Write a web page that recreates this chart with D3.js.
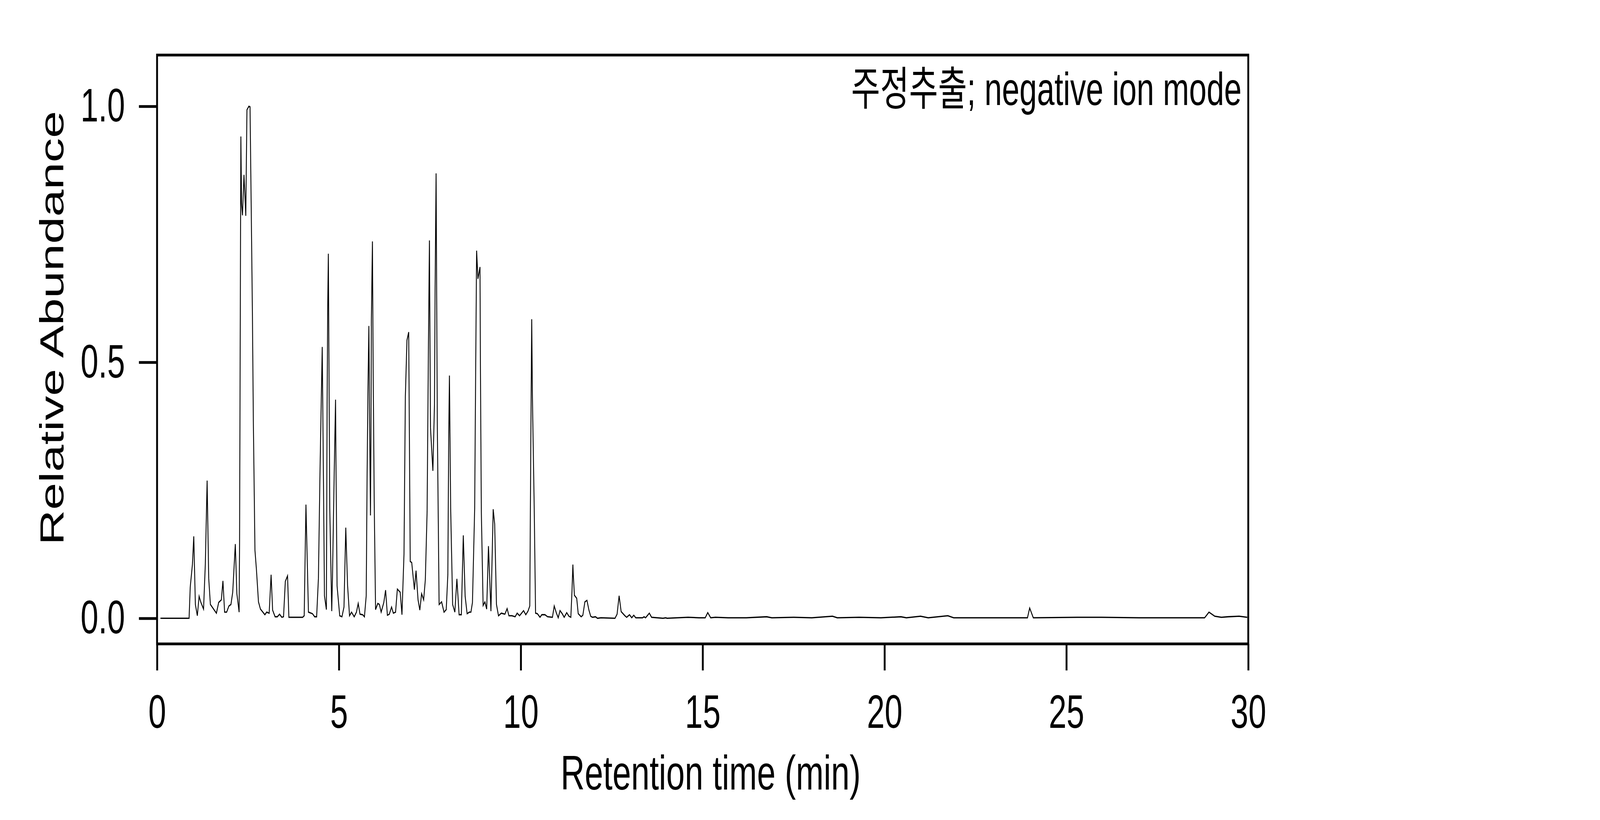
<!DOCTYPE html>
<html lang="ko">
<head>
	<meta charset="UTF-8">
	<title>Chromatogram</title>
	<script src="https://cdn.jsdelivr.net/npm/d3@7"></script>
	<style>
		html, body { margin: 0; padding: 0; background: #fff; overflow: hidden; }
		svg { display: block; width: 100vw; height: 100vh; font-family: "Liberation Sans", Arial, "Noto Sans CJK KR", sans-serif; }
	</style>
</head>
<body>
<div id="chart"></div>
<script>
// retention time (min) and relative abundance
var rtMin = [
	0.093, 0.880, 0.912, 0.973, 1.009, 1.053, 1.107, 1.156, 1.205, 1.278,
	1.327, 1.376, 1.420, 1.466, 1.632, 1.694, 1.767, 1.811, 1.857, 1.913,
	1.975, 2.031, 2.080, 2.151, 2.194, 2.256, 2.268, 2.280, 2.292, 2.304,
	2.323, 2.348, 2.390, 2.439, 2.471, 2.524, 2.556, 2.593, 2.622, 2.647,
	2.691, 2.732, 2.788, 2.842, 2.964, 3.013, 3.082, 3.135, 3.177, 3.245,
	3.306, 3.368, 3.429, 3.477, 3.526, 3.587, 3.624, 4.003, 4.045, 4.093,
	4.162, 4.272, 4.333, 4.387, 4.436, 4.479, 4.516, 4.541, 4.577, 4.602,
	4.655, 4.675, 4.692, 4.709, 4.748, 4.785, 4.802, 4.822, 4.870, 4.907,
	4.919, 4.949, 5.022, 5.083, 5.139, 5.188, 5.237, 5.291, 5.347, 5.420,
	5.481, 5.530, 5.579, 5.653, 5.701, 5.750, 5.775, 5.799, 5.823, 5.843,
	5.867, 5.880, 5.892, 5.921, 5.941, 5.970, 6.007, 6.068, 6.112, 6.161,
	6.234, 6.283, 6.332, 6.385, 6.447, 6.496, 6.557, 6.606, 6.684, 6.733,
	6.789, 6.826, 6.870, 6.918, 6.960, 7.001, 7.075, 7.120, 7.175, 7.224,
	7.273, 7.329, 7.375, 7.424, 7.444, 7.461, 7.488, 7.517, 7.583, 7.627,
	7.644, 7.671, 7.705, 7.754, 7.823, 7.889, 7.950, 7.994, 8.018, 8.038,
	8.072, 8.126, 8.187, 8.243, 8.304, 8.365, 8.419, 8.470, 8.524, 8.585,
	8.629, 8.671, 8.732, 8.756, 8.785, 8.822, 8.878, 8.891, 8.915, 8.964,
	9.013, 9.062, 9.111, 9.179, 9.241, 9.282, 9.331, 9.387, 9.465, 9.563,
	9.624, 9.673, 9.758, 9.844, 9.900, 9.966, 10.076, 10.137, 10.198, 10.247,
	10.276, 10.300, 10.320, 10.369, 10.406, 10.455, 10.528, 10.577, 10.663, 10.736,
	10.870, 10.919, 10.980, 11.029, 11.078, 11.139, 11.193, 11.262, 11.323, 11.376,
	11.407, 11.432, 11.444, 11.474, 11.537, 11.579, 11.660, 11.706, 11.762, 11.819,
	11.873, 11.922, 11.970, 12.055, 12.109, 12.202, 12.590, 12.647, 12.703, 12.759,
	12.862, 12.910, 12.989, 13.050, 13.106, 13.160, 13.350, 13.387, 13.431, 13.534,
	13.595, 13.910, 13.986, 14.020, 14.30, 14.60, 14.90, 15.07, 15.14, 15.22,
	15.35, 15.70, 16.20, 16.76, 16.90, 17.50, 18.00, 18.57, 18.70, 19.30,
	19.90, 20.45, 20.60, 20.99, 21.20, 21.74, 21.90, 22.50, 23.20, 23.93,
	23.99, 24.09, 25.30, 25.97, 27.00, 28.80, 28.92, 29.08, 29.26, 29.44,
	29.75, 29.97
];
var relAbundance = [
	0.000, 0.000, 0.061, 0.106, 0.160, 0.027, 0.005, 0.043, 0.031, 0.018,
	0.106, 0.269, 0.078, 0.027, 0.010, 0.031, 0.036, 0.073, 0.012, 0.012,
	0.024, 0.027, 0.051, 0.145, 0.048, 0.012, 0.147, 0.410, 0.680, 0.941,
	0.810, 0.787, 0.866, 0.786, 0.993, 1.000, 0.999, 0.774, 0.590, 0.385,
	0.133, 0.095, 0.032, 0.018, 0.007, 0.012, 0.010, 0.085, 0.016, 0.003,
	0.003, 0.008, 0.002, 0.003, 0.072, 0.083, 0.002, 0.002, 0.005, 0.222,
	0.012, 0.009, 0.003, 0.003, 0.078, 0.283, 0.433, 0.530, 0.249, 0.044,
	0.017, 0.419, 0.610, 0.712, 0.215, 0.078, 0.014, 0.078, 0.283, 0.427,
	0.300, 0.063, 0.005, 0.003, 0.022, 0.177, 0.065, 0.005, 0.012, 0.003,
	0.012, 0.029, 0.008, 0.007, 0.003, 0.044, 0.283, 0.453, 0.571, 0.385,
	0.201, 0.351, 0.583, 0.736, 0.487, 0.228, 0.017, 0.029, 0.027, 0.012,
	0.031, 0.055, 0.006, 0.008, 0.022, 0.010, 0.012, 0.057, 0.051, 0.007,
	0.126, 0.433, 0.543, 0.559, 0.111, 0.109, 0.056, 0.093, 0.036, 0.016,
	0.048, 0.036, 0.075, 0.208, 0.385, 0.535, 0.738, 0.372, 0.288, 0.419,
	0.644, 0.869, 0.378, 0.027, 0.032, 0.012, 0.017, 0.085, 0.351, 0.474,
	0.215, 0.027, 0.012, 0.077, 0.007, 0.007, 0.162, 0.043, 0.009, 0.012,
	0.012, 0.031, 0.215, 0.453, 0.718, 0.663, 0.686, 0.480, 0.208, 0.025,
	0.032, 0.018, 0.141, 0.014, 0.213, 0.184, 0.027, 0.005, 0.010, 0.008,
	0.019, 0.005, 0.005, 0.003, 0.010, 0.005, 0.015, 0.007, 0.014, 0.024,
	0.351, 0.584, 0.430, 0.215, 0.010, 0.009, 0.002, 0.007, 0.007, 0.003,
	0.002, 0.024, 0.010, 0.001, 0.015, 0.009, 0.002, 0.011, 0.004, 0.002,
	0.053, 0.105, 0.084, 0.045, 0.039, 0.009, 0.003, 0.006, 0.032, 0.035,
	0.016, 0.004, 0.002, 0.003, 0.000, 0.001, 0.000, 0.008, 0.044, 0.013,
	0.005, 0.002, 0.007, 0.001, 0.006, 0.001, 0.001, 0.003, 0.001, 0.010,
	0.002, 0.000, 0.001, 0.000, 0.001, 0.002, 0.001, 0.001, 0.011, 0.001,
	0.002, 0.001, 0.001, 0.003, 0.001, 0.002, 0.001, 0.004, 0.001, 0.002,
	0.001, 0.003, 0.001, 0.004, 0.001, 0.005, 0.001, 0.001, 0.001, 0.001,
	0.020, 0.001, 0.002, 0.002, 0.001, 0.001, 0.012, 0.004, 0.002, 0.003,
	0.004, 0.002
];
var xTicks = [0, 5, 10, 15, 20, 25, 30];
var yTicks = [0.0, 0.5, 1.0];
var xTitle = "Retention time (min)";
var yTitle = "Relative Abundance";
var note = "주정추출; negative ion mode";

var W = 6000, H = 2100;
// plot box in pixels ("top" is taken by window.top, so prefix them)
var boxL = 589, boxR = 4681, boxT = 141, boxB = 1649;

// viewBox stretched to the window, so the 6000x2100 layout fills it
var svg = d3.select("#chart").append("svg")
	.attr("viewBox", "0 0 " + W + " " + H)
	.attr("preserveAspectRatio", "none");
svg.append("rect").attr("width", W).attr("height", H).attr("fill", "#fff");

var x = d3.scaleLinear().domain([0, 30]).range([boxL, boxR]);
var y = d3.scaleLinear().domain([-0.05, 1.1]).range([boxB, boxT]);

var points = rtMin.map(function(t, i){ return [t, relAbundance[i]]; });

// trace
svg.append("path")
	.datum(points)
	.attr("fill", "none")
	.attr("stroke", "#000")
	.attr("stroke-width", 3.3)
	.attr("d", d3.line()
		.x(function(d){ return x(d[0]); })
		.y(function(d){ return y(d[1]); }));

// axes
var xAxis = d3.axisBottom(x).tickValues(xTicks).tickFormat(d3.format("d"))
	.tickSize(68).tickPadding(62);
var yAxis = d3.axisLeft(y).tickValues(yTicks).tickFormat(d3.format(".1f"))
	.tickSize(68).tickPadding(52);

var gx = svg.append("g").attr("transform", "translate(0," + boxB + ")").call(xAxis);
var gy = svg.append("g").attr("transform", "translate(" + boxL + ",0)").call(yAxis);
[gx, gy].forEach(function(g){
	g.select(".domain").remove();
	g.selectAll(".tick line").attr("stroke", "#000").attr("stroke-width", 7);
	g.selectAll(".tick text").attr("fill", "#000")
		.style("font-size", "120px")
		.style("font-family", "'Liberation Sans', Arial, sans-serif");
});

// frame
svg.append("rect")
	.attr("x", boxL).attr("y", boxT)
	.attr("width", boxR - boxL).attr("height", boxB - boxT)
	.attr("fill", "none").attr("stroke", "#000").attr("stroke-width", 7);

// titles
svg.append("text")
	.attr("x", 2665).attr("y", 2022)
	.attr("text-anchor", "middle")
	.style("font-size", "125px")
	.text(xTitle);

svg.append("text")
	.attr("transform", "translate(237,840) rotate(-90)")
	.attr("text-anchor", "middle")
	.style("font-size", "125px")
	.text(yTitle);

svg.append("text")
	.attr("x", boxR - 25).attr("y", 269)
	.attr("text-anchor", "end")
	.style("font-size", "118px")
	.text(note);
</script>
</body>
</html>
